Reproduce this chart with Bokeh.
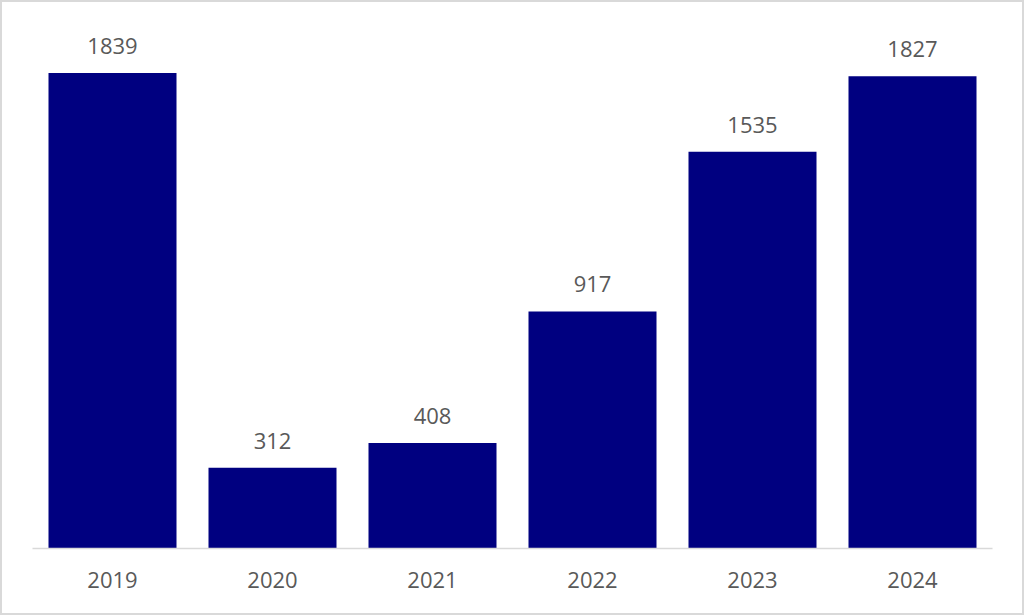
from bokeh.plotting import figure
from bokeh.models import ColumnDataSource, LabelSet, Range1d, FactorRange
from bokeh.core.properties import value
from bokeh.embed import file_html
from bokeh.resources import INLINE

years = ["2019", "2020", "2021", "2022", "2023", "2024"]
values = [1839, 312, 408, 917, 1535, 1827]

src = ColumnDataSource(dict(year=years, value=values, label=[str(v) for v in values]))

p = figure(width=1024, height=615, x_range=FactorRange(*years, range_padding=0),
           y_range=Range1d(0, 2000), output_backend="svg", toolbar_location=None,
           min_border_left=30, min_border_right=34, min_border_top=29, min_border_bottom=69,
           styles={"border": "2px solid #d9d9d9", "box-sizing": "border-box"})
p.x_range.range_padding = 0

p.vbar(x="year", top="value", width=0.8, source=src, color="#000080", line_color=None)

labels = LabelSet(x="year", y="value", text="label", source=src, y_offset=19,
                  text_align="center", text_baseline="alphabetic",
                  text_font=value("Open Sans"), text_font_size="22px", text_color="#595959")
p.add_layout(labels)

p.xgrid.visible = False
p.ygrid.visible = False
p.yaxis.visible = False
p.outline_line_color = None
p.xaxis.axis_line_color = "#d9d9d9"
p.xaxis.axis_line_width = 1.5
p.xaxis.major_tick_line_color = None
p.xaxis.minor_tick_line_color = None
p.xaxis.major_label_text_font = "Open Sans"
p.xaxis.major_label_text_font_size = "22px"
p.xaxis.major_label_text_color = "#595959"
p.xaxis.major_label_standoff = 17

open("out.html", "w").write(file_html(p, INLINE))
